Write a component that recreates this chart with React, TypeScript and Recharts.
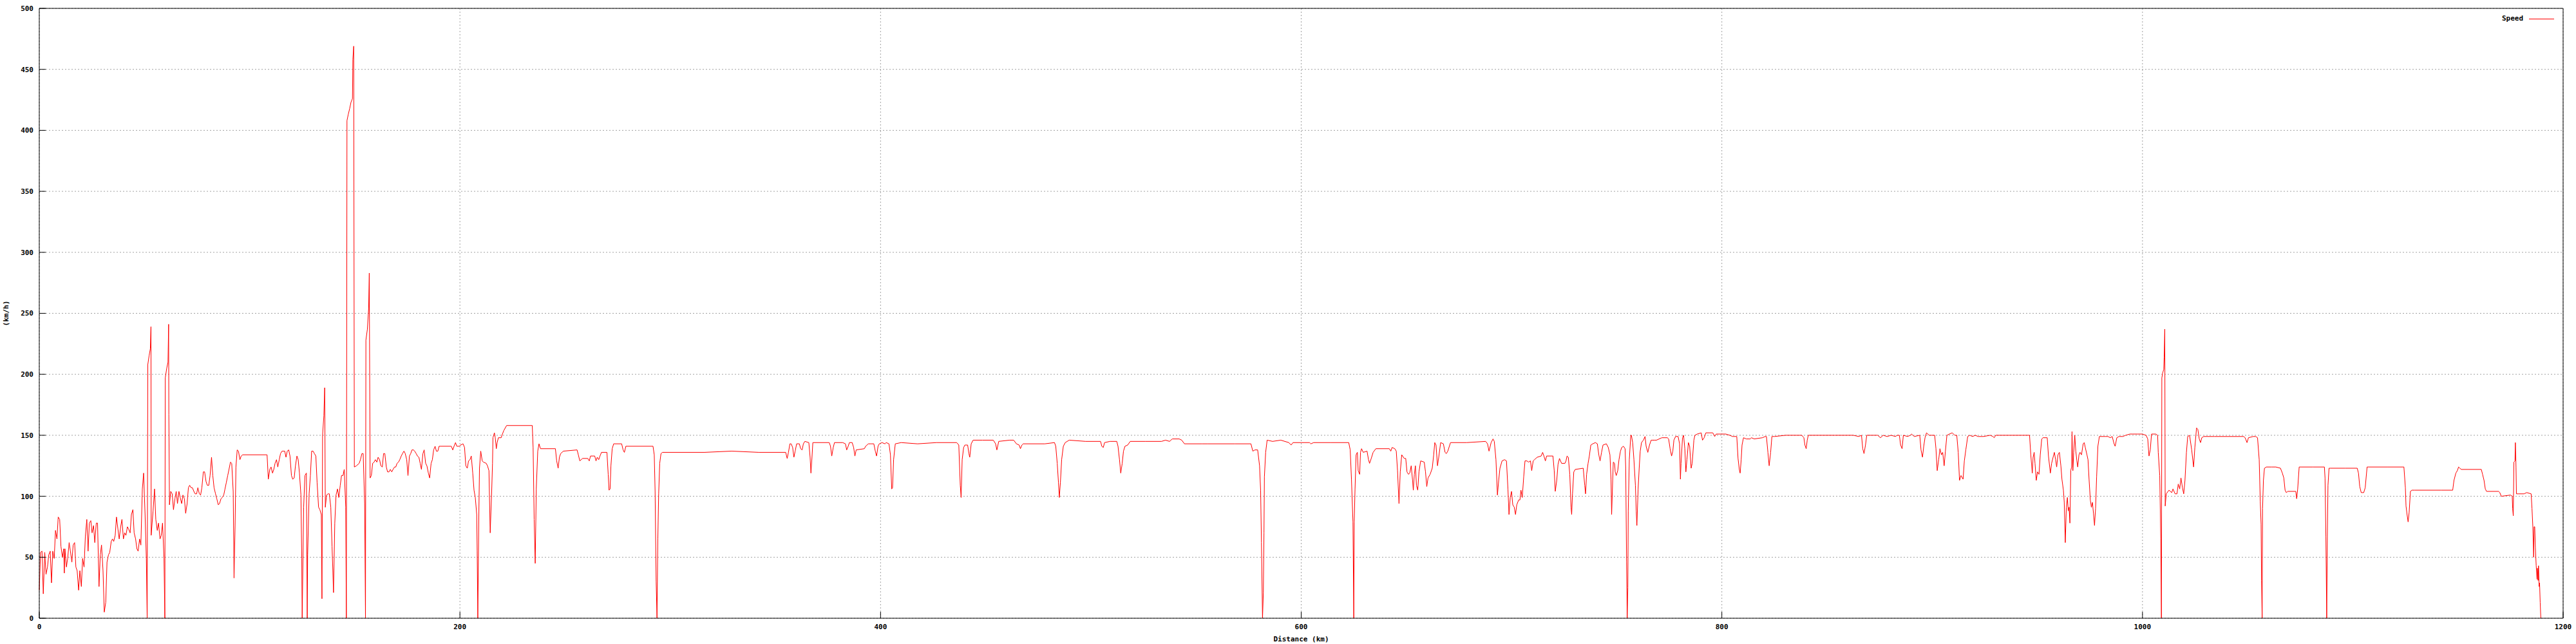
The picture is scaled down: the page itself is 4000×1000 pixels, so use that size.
import React from "react";
import { LineChart, Line, XAxis, YAxis, CartesianGrid, Legend } from "recharts";

type Pt = [number, number]; // [distance km, speed km/h]

const distanceTicks = [0, 200, 400, 600, 800, 1000, 1200];
const speedTicks = [0, 50, 100, 150, 200, 250, 300, 350, 400, 450, 500];

const speed0to200: Pt[] = [
  [0, 23], [0.6, 54], [1.3, 55], [1.9, 20], [2.6, 54], [3.2, 36], [3.9, 42], [4.5, 52], [5.2, 55], [5.8, 29],
  [6.4, 55], [7.1, 49], [7.7, 72], [8.4, 65], [9.0, 83], [9.7, 81], [10.3, 59], [11.0, 50], [11.6, 57], [11.9, 37],
  [12.2, 57], [12.9, 42], [13.5, 49], [14.2, 62], [14.8, 55], [15.5, 46], [16.1, 60], [16.8, 62], [17.4, 42], [18.0, 39],
  [18.7, 23], [19.3, 39], [20.0, 26], [20.6, 49], [21.3, 42], [21.9, 67], [22.6, 81], [23.2, 55], [23.8, 78], [24.5, 80],
  [25.1, 70], [25.8, 76], [26.4, 62], [27.1, 78], [27.7, 78], [28.4, 26], [29.0, 52], [29.6, 60], [30.3, 39], [30.9, 5],
  [31.6, 13], [32.2, 46], [32.9, 52], [33.5, 54], [34.2, 63], [34.8, 65], [35.4, 63], [36.1, 68], [36.7, 83], [37.4, 73],
  [38.0, 65], [38.7, 75], [39.3, 81], [40.0, 65], [40.6, 70], [41.2, 68], [41.9, 75], [42.5, 73], [43.2, 70], [43.8, 85],
  [44.5, 89], [45.1, 70], [45.8, 65], [46.4, 57], [47.0, 55], [47.7, 65], [48.3, 60], [49.0, 106], [49.6, 119], [50.3, 85],
  [50.9, 49], [51.3, 0], [51.6, 208], [52.2, 215], [52.8, 221], [53.1, 239], [53.2, 68], [54.1, 88], [54.8, 106], [55.4, 81],
  [56.1, 72], [56.7, 78], [57.4, 65], [58.0, 68], [58.6, 78], [59.3, 49], [59.7, 0], [59.9, 197], [60.6, 205], [61.2, 210],
  [61.5, 241], [61.6, 167], [61.9, 93], [62.5, 104], [63.2, 102], [63.8, 89], [64.5, 98], [65.1, 104], [65.7, 94], [66.4, 104],
  [67.0, 99], [67.7, 94], [68.3, 101], [69.0, 98], [69.6, 86], [70.3, 94], [70.9, 107], [71.5, 109], [72.2, 107], [72.8, 107],
  [73.5, 104], [74.1, 102], [74.8, 102], [75.4, 107], [76.1, 102], [76.7, 101], [77.3, 107], [78.0, 120], [78.6, 120], [79.3, 112],
  [79.9, 109], [80.6, 109], [81.2, 117], [81.9, 132], [82.5, 117], [83.1, 107], [83.8, 102], [84.4, 98], [85.1, 93], [85.7, 94],
  [86.4, 98], [87.0, 99], [87.7, 101], [88.3, 106], [88.9, 111], [89.6, 117], [90.2, 122], [90.9, 128], [91.5, 127], [92.2, 104],
  [92.6, 33], [93.1, 76], [93.5, 124], [94.1, 138], [94.7, 137], [95.4, 130], [96.0, 133], [96.7, 134], [108.3, 134], [108.9, 114],
  [109.6, 122], [110.2, 124], [110.9, 119], [111.5, 122], [112.1, 127], [112.8, 130], [113.4, 124], [114.1, 130], [114.7, 135], [115.4, 137],
  [116.0, 137], [116.7, 137], [117.3, 132], [117.9, 137], [118.6, 138], [119.2, 133], [119.9, 117], [120.5, 114], [121.2, 115], [121.8, 125],
  [122.5, 133], [123.1, 130], [123.7, 119], [124.4, 101], [124.8, 49], [125.0, 0], [125.7, 91], [126.3, 117], [127.0, 119], [127.4, 0],
  [127.6, 52], [128.3, 102], [128.9, 117], [129.5, 137], [130.2, 137], [130.8, 135], [131.5, 133], [132.1, 111], [132.8, 91], [133.4, 89],
  [134.1, 85], [134.4, 16], [134.7, 150], [135.3, 166], [135.7, 189], [136.0, 91], [136.6, 101], [137.3, 102], [137.9, 102], [138.6, 91],
  [139.2, 59], [139.9, 21], [140.5, 78], [141.1, 101], [141.8, 106], [142.4, 99], [143.1, 109], [143.7, 117], [144.4, 117], [145.0, 122],
  [145.7, 91], [146.0, 0], [146.3, 408], [146.9, 413], [147.6, 418], [148.2, 423], [148.9, 426], [149.1, 458], [149.5, 469], [149.8, 124],
  [150.8, 125], [152.1, 127], [152.7, 130], [153.4, 135], [154.0, 135], [154.7, 94], [155.1, 0], [155.3, 228], [156.0, 237], [156.6, 254],
  [156.9, 283], [157.3, 115], [157.9, 117], [158.5, 127], [159.2, 128], [159.8, 130], [160.5, 128], [161.1, 132], [161.8, 130], [162.4, 125],
  [163.1, 124], [163.7, 135], [164.3, 135], [165.0, 124], [165.6, 120], [166.3, 120], [166.9, 122], [167.6, 120], [168.2, 122], [168.9, 124],
  [169.5, 124], [170.1, 127], [170.8, 128], [171.4, 130], [172.1, 133], [172.7, 135], [173.4, 137], [174.0, 135], [174.7, 130], [175.3, 117],
  [176.0, 133], [176.6, 135], [177.2, 138], [177.9, 138], [178.5, 137], [179.2, 135], [179.8, 133], [180.5, 132], [181.1, 127], [181.7, 122],
  [182.4, 135], [183.0, 138], [183.7, 127], [184.3, 125], [185.0, 119], [185.6, 115], [186.3, 127], [186.9, 130], [187.5, 138], [188.2, 141],
  [188.8, 137], [189.5, 137], [190.1, 141], [190.8, 141], [195.9, 141], [196.6, 138], [197.2, 141], [197.9, 144], [198.5, 141], [199.8, 141],
];

const speed200to400: Pt[] = [
  [200.3, 142], [201.5, 143], [202.2, 140], [202.8, 125], [203.5, 123], [204.1, 129], [204.8, 130], [205.4, 133], [206.1, 119], [206.7, 105],
  [207.3, 99], [208.0, 85], [208.2, 55], [208.5, 0], [209.0, 85], [209.3, 123], [209.9, 137], [210.6, 129], [211.2, 128], [212.5, 127],
  [213.1, 125], [213.8, 121], [214.4, 70], [214.7, 85], [215.1, 104], [215.5, 127], [215.7, 148], [216.4, 152], [216.8, 148], [217.3, 139],
  [217.7, 144], [218.3, 148], [219.6, 148], [220.2, 151], [220.9, 154], [222.2, 158], [234.4, 158], [234.8, 140], [235.3, 81], [235.8, 45],
  [236.3, 106], [237.0, 137], [237.6, 143], [238.3, 139], [245.4, 139], [246.0, 129], [246.7, 123], [247.3, 132], [247.9, 135], [249.2, 137],
  [255.7, 138], [256.3, 134], [257.0, 129], [258.3, 131], [260.8, 131], [261.5, 129], [262.1, 133], [264.1, 133], [264.7, 129], [265.3, 132],
  [266.0, 130], [266.6, 133], [267.3, 136], [269.9, 136], [270.5, 118], [270.9, 105], [271.4, 106], [271.8, 125], [272.4, 139], [273.1, 143],
  [276.9, 143], [277.6, 138], [278.2, 136], [278.9, 141], [291.8, 141], [292.4, 134], [292.8, 104], [293.3, 30], [293.7, 0], [294.1, 65],
  [294.5, 102], [295.0, 127], [295.6, 135], [296.3, 136], [316.3, 136], [329.2, 137], [342.1, 136], [354.9, 136], [355.6, 131], [356.2, 136],
  [356.9, 143], [357.5, 143], [358.2, 140], [358.8, 132], [359.4, 137], [360.1, 143], [361.4, 143], [362.0, 139], [362.7, 138], [363.3, 143],
  [364.0, 145], [365.9, 144], [366.5, 132], [366.9, 119], [367.4, 132], [367.8, 144], [375.6, 144], [376.2, 141], [376.8, 133], [377.5, 140],
  [378.1, 144], [382.0, 144], [383.3, 143], [383.9, 138], [384.6, 141], [385.2, 144], [386.5, 144], [387.2, 140], [387.8, 133], [388.4, 138],
  [392.3, 139], [392.9, 141], [394.2, 143], [395.5, 143], [396.8, 143], [397.5, 137], [398.1, 133], [398.8, 141], [399.4, 143], [400.7, 144],
];

const speed400to600: Pt[] = [
  [402.1, 143], [402.7, 144], [404.0, 143], [404.7, 134], [405.3, 106], [405.7, 107], [406.2, 130], [407.0, 143], [409.8, 144], [417.6, 143],
  [426.6, 144], [436.2, 144], [437.2, 142], [437.9, 109], [438.3, 99], [438.8, 130], [439.5, 140], [440.1, 142], [441.4, 142], [442.0, 135],
  [442.4, 132], [443.1, 143], [444.0, 146], [448.5, 146], [453.6, 146], [454.7, 143], [455.3, 138], [456.2, 145], [461.4, 146], [463.3, 146],
  [464.6, 143], [465.9, 142], [466.5, 139], [467.2, 142], [467.8, 143], [478.1, 143], [482.7, 144], [483.3, 141], [484.0, 127], [484.6, 111],
  [485.0, 99], [485.5, 111], [486.1, 130], [486.9, 141], [487.8, 144], [489.7, 146], [497.5, 145], [504.6, 145], [505.2, 141], [505.9, 140],
  [506.5, 144], [509.1, 145], [512.3, 145], [512.9, 141], [513.6, 130], [514.2, 119], [514.9, 127], [515.5, 137], [516.2, 141], [517.5, 142],
  [518.7, 145], [525.8, 145], [533.6, 145], [535.5, 146], [537.4, 145], [538.7, 147], [542.0, 147], [543.2, 146], [544.5, 143], [552.9, 143],
  [555.5, 143], [568.4, 143], [576.1, 143], [577.0, 137], [578.0, 138], [579.3, 138], [580.2, 125], [580.7, 105], [581.1, 62], [581.6, 0],
  [582.0, 21], [582.3, 70], [582.5, 116], [583.1, 136], [583.8, 146], [586.4, 145], [590.3, 146], [594.1, 144], [595.2, 142], [596.1, 144],
  [600.0, 144],
];

const speed600to800: Pt[] = [
  [601.4, 144], [604.0, 144], [604.6, 143], [605.9, 144], [614.2, 144], [622.6, 144], [623.3, 138], [623.9, 114], [624.6, 79], [625.0, 0],
  [625.2, 79], [625.6, 106], [626.1, 134], [626.7, 136], [627.1, 121], [627.8, 118], [628.2, 136], [628.7, 139], [629.5, 136], [631.3, 137],
  [632.0, 130], [632.5, 127], [633.3, 131], [634.2, 136], [635.5, 139], [641.9, 139], [642.6, 137], [643.2, 140], [644.5, 139], [645.2, 137],
  [645.8, 121], [646.5, 94], [647.1, 120], [647.8, 134], [649.0, 131], [649.7, 131], [650.3, 120], [651.0, 118], [651.6, 119], [652.3, 125],
  [652.9, 114], [653.3, 105], [653.8, 118], [654.3, 125], [654.8, 109], [655.4, 105], [656.0, 120], [656.8, 129], [658.5, 128], [659.1, 120],
  [659.7, 108], [660.3, 115], [661.3, 118], [662.3, 123], [663.0, 134], [663.5, 144], [664.1, 142], [664.8, 125], [665.4, 132], [666.3, 144],
  [667.6, 143], [668.4, 136], [669.0, 135], [669.7, 137], [671.0, 144], [678.7, 144], [687.7, 145], [688.6, 143], [689.3, 137], [690.3, 144],
  [691.2, 147], [691.8, 145], [692.6, 130], [693.3, 101], [693.9, 113], [694.5, 123], [695.5, 129], [696.7, 130], [697.6, 129], [698.3, 106],
  [698.8, 85], [699.4, 99], [700.0, 104], [700.6, 93], [701.3, 91], [701.9, 85], [702.5, 93], [703.4, 97], [704.0, 97], [704.5, 105],
  [705.1, 99], [705.8, 116], [706.4, 129], [707.3, 129], [708.1, 128], [709.0, 129], [709.6, 121], [710.3, 129], [710.9, 130], [712.2, 132],
  [714.1, 133], [714.8, 136], [715.4, 133], [716.1, 129], [716.7, 133], [719.7, 133], [720.3, 121], [720.8, 104], [721.5, 113], [722.1, 126],
  [722.8, 131], [723.8, 127], [725.4, 127], [725.9, 129], [726.4, 133], [727.0, 132], [727.7, 118], [728.3, 91], [728.6, 85], [729.0, 102],
  [729.6, 120], [730.3, 122], [734.1, 123], [734.8, 109], [735.2, 102], [735.7, 118], [736.4, 127], [737.0, 133], [737.7, 142], [738.6, 143],
  [739.9, 144], [740.8, 143], [741.5, 134], [742.1, 129], [742.8, 136], [743.5, 142], [745.1, 143], [746.0, 140], [746.8, 134], [747.3, 114],
  [747.6, 85], [748.1, 113], [748.4, 128], [749.0, 127], [749.3, 120], [749.8, 117], [750.5, 121], [751.1, 130], [751.8, 137], [752.4, 140],
  [753.2, 141], [754.0, 139], [754.3, 123], [754.7, 46], [755.0, 0], [755.3, 25], [755.5, 88], [756.0, 130], [756.7, 150], [757.0, 150],
  [757.6, 144], [758.2, 130], [758.9, 109], [759.3, 88], [759.6, 76], [760.2, 106], [760.7, 123], [761.2, 137], [761.8, 144], [762.7, 146],
  [763.5, 149], [764.0, 141], [764.8, 136], [765.6, 142], [766.4, 146], [767.0, 146], [768.0, 146], [768.9, 146], [771.5, 148], [774.1, 148],
  [774.7, 147], [775.4, 139], [776.1, 133], [776.7, 137], [777.2, 146], [778.0, 149], [779.2, 149], [779.9, 143], [780.3, 114], [780.6, 127],
  [781.3, 148], [781.8, 150], [782.4, 139], [782.9, 120], [783.4, 130], [784.1, 144], [784.7, 141], [785.4, 123], [785.9, 127], [786.7, 146],
  [787.2, 150], [788.3, 151], [790.2, 152], [790.8, 146], [791.6, 148], [792.4, 152], [794.0, 152], [795.7, 152], [796.6, 149], [797.3, 151],
  [798.6, 151], [799.9, 151],
];

const speed800to1000: Pt[] = [
  [801.9, 151], [803.8, 150], [805.1, 149], [807.1, 149], [807.7, 131], [808.3, 122], [808.7, 119], [809.2, 130], [809.6, 142], [810.3, 148],
  [811.6, 147], [813.5, 147], [814.1, 148], [815.4, 147], [819.3, 148], [820.6, 149], [821.2, 149], [821.9, 136], [822.5, 125], [823.2, 136],
  [823.8, 149], [825.1, 149], [830.3, 150], [838.0, 150], [839.0, 148], [839.5, 142], [840.1, 139], [840.6, 146], [841.1, 150], [845.7, 150],
  [853.5, 150], [858.6, 150], [862.5, 150], [865.1, 149], [866.4, 150], [867.0, 139], [867.6, 135], [868.3, 142], [868.9, 150], [871.5, 150],
  [874.1, 150], [875.4, 148], [876.7, 150], [878.6, 149], [880.5, 150], [882.5, 149], [883.4, 150], [884.4, 150], [885.0, 142], [885.7, 139],
  [886.3, 150], [888.3, 149], [889.6, 150], [890.2, 151], [891.5, 149], [894.1, 150], [894.7, 138], [895.4, 132], [896.0, 141], [896.6, 148],
  [897.3, 152], [898.6, 150], [899.9, 150], [901.2, 150], [901.8, 139], [902.4, 121], [903.1, 130], [903.7, 139], [904.4, 134], [905.0, 136],
  [905.7, 125], [906.3, 137], [907.0, 150], [908.2, 151], [909.5, 152], [910.8, 150], [911.7, 150], [912.4, 136], [913.0, 113], [913.7, 117],
  [914.7, 114], [915.3, 129], [916.0, 138], [916.9, 149], [917.9, 150], [919.2, 149], [920.5, 150], [921.8, 149], [924.4, 149], [927.6, 150],
  [928.9, 149], [929.5, 148], [930.2, 150], [937.2, 150], [943.0, 150], [943.7, 150], [946.3, 150], [946.9, 134], [947.6, 119], [948.0, 132],
  [948.5, 136], [948.9, 127], [949.5, 113], [950.1, 120], [950.8, 118], [951.4, 134], [952.1, 147], [952.7, 148], [954.7, 148], [955.3, 133],
  [956.2, 119], [956.8, 127], [957.5, 132], [958.1, 136], [958.7, 130], [959.2, 124], [959.8, 134], [960.5, 136], [961.2, 125], [961.7, 114],
  [962.4, 105], [962.8, 95], [963.3, 62], [963.8, 91], [964.3, 99], [964.7, 88], [965.1, 91], [965.5, 78], [965.9, 121], [966.3, 124],
  [966.5, 153], [966.9, 121], [967.3, 136], [967.8, 150], [968.3, 137], [968.8, 129], [969.2, 124], [969.8, 134], [970.3, 136], [971.0, 134],
  [971.8, 143], [972.3, 144], [972.8, 140], [973.6, 134], [974.1, 130], [974.6, 114], [975.2, 97], [975.7, 91], [976.2, 95], [976.7, 86],
  [977.2, 76], [977.7, 90], [978.2, 116], [978.8, 141], [979.5, 149], [982.4, 149], [983.6, 149], [984.7, 148], [985.6, 149], [986.5, 143],
  [987.0, 141], [987.8, 148], [988.8, 149], [990.7, 149], [992.0, 150], [994.0, 151], [995.2, 151], [997.8, 151], [999.8, 151], [1001.7, 150],
];

const speed1000to1200: Pt[] = [
  [1002.5, 147], [1003.1, 133], [1003.7, 138], [1004.3, 151], [1006.3, 151], [1007.2, 150], [1007.5, 136], [1008.2, 117], [1008.7, 65], [1009.0, 0],
  [1009.2, 197], [1009.6, 201], [1010.1, 204], [1010.3, 214], [1010.6, 237], [1010.8, 92], [1011.3, 102], [1012.6, 105], [1013.9, 103], [1014.5, 106],
  [1015.5, 102], [1016.4, 102], [1017.0, 110], [1017.7, 106], [1018.3, 115], [1019.0, 107], [1019.6, 102], [1020.2, 113], [1020.9, 136], [1021.5, 149],
  [1022.4, 150], [1023.4, 138], [1024.3, 124], [1024.9, 140], [1025.7, 156], [1026.3, 155], [1027.0, 147], [1027.6, 144], [1028.2, 148], [1029.1, 149],
  [1034.2, 149], [1040.5, 149], [1048.1, 149], [1048.8, 148], [1049.7, 144], [1050.4, 148], [1052.6, 149], [1053.8, 149], [1054.7, 148], [1055.5, 130],
  [1056.0, 96], [1056.4, 77], [1056.6, 31], [1056.9, 0], [1057.1, 90], [1057.5, 113], [1058.0, 123], [1058.9, 124], [1061.5, 124], [1063.4, 124],
  [1065.6, 123], [1066.5, 119], [1067.2, 115], [1067.8, 105], [1068.4, 103], [1069.1, 104], [1072.9, 104], [1073.3, 98], [1073.8, 106], [1074.5, 124],
  [1075.4, 124], [1081.1, 124], [1086.5, 124], [1086.8, 115], [1087.2, 67], [1087.6, 0], [1087.9, 67], [1088.2, 109], [1088.7, 123], [1089.4, 123],
  [1096.4, 123], [1102.1, 123], [1102.7, 119], [1103.3, 108], [1104.0, 103], [1105.2, 103], [1105.9, 107], [1106.8, 124], [1107.8, 124], [1116.7, 124],
  [1124.3, 124], [1125.0, 107], [1125.3, 92], [1125.8, 85], [1126.3, 79], [1126.8, 87], [1127.4, 104], [1128.1, 105], [1129.4, 105], [1135.7, 105],
  [1142.0, 105], [1147.5, 105], [1148.1, 113], [1149.0, 119], [1149.7, 121], [1150.3, 124], [1150.9, 123], [1151.6, 122], [1154.7, 122], [1161.1, 122],
  [1161.7, 118], [1162.4, 113], [1163.0, 106], [1163.6, 104], [1169.3, 104], [1169.9, 103], [1170.6, 100], [1175.0, 101], [1175.8, 100], [1176.0, 90],
  [1176.3, 84], [1176.6, 128], [1177.1, 129], [1177.3, 144], [1177.6, 124], [1177.8, 102], [1178.8, 102], [1181.4, 102], [1182.7, 103], [1184.8, 102],
  [1185.2, 90], [1185.6, 75], [1186.0, 50], [1186.2, 75], [1186.5, 75], [1186.8, 58], [1187.2, 43], [1187.6, 32], [1187.8, 41], [1188.1, 31],
  [1188.3, 43], [1188.6, 26], [1188.8, 29], [1189.1, 13], [1189.4, 0],
];

const profile = [
  ...speed0to200,
  ...speed200to400,
  ...speed400to600,
  ...speed600to800,
  ...speed800to1000,
  ...speed1000to1200,
].map(([km, speed]) => ({ km, speed }));

const FONT = '"DejaVu Sans Mono", "Liberation Mono", monospace';
const tickFont = { fontFamily: FONT, fontSize: 11, fontWeight: 700, fill: "#000" };

const SpeedKey = () => (
  <div
    style={{
      display: "flex",
      alignItems: "center",
      fontFamily: FONT,
      fontSize: 11,
      fontWeight: 700,
      lineHeight: "14px",
      color: "#000",
    }}
  >
    <span>Speed</span>
    <svg width={39} height={3} style={{ marginLeft: 9 }}>
      <line x1={0} y1={1.5} x2={39} y2={1.5} stroke="#ff0000" strokeWidth={1} />
    </svg>
  </div>
);

const SpeedAxisLabel = (props: any) => {
  const vb = props.viewBox || { y: 13, height: 947 };
  const cy = vb.y + vb.height / 2;
  return (
    <text
      transform={`translate(13,${cy}) rotate(-90)`}
      textAnchor="middle"
      style={tickFont}
    >
      (km/h)
    </text>
  );
};

export default function App() {
  return (
    <div style={{ position: "absolute", left: 0, top: 0, width: 4000, height: 1000, background: "#fff" }}>
      <LineChart width={4000} height={1000} data={profile} margin={{ top: 12, right: 19, bottom: 0, left: 0 }}>
        <CartesianGrid stroke="#a0a0a0" strokeDasharray="2 3" />
        <XAxis
          dataKey="km"
          type="number"
          domain={[0, 1200]}
          ticks={distanceTicks}
          interval={0}
          height={40}
          tickSize={-10}
          tickMargin={19}
          axisLine={{ stroke: "#000" }}
          tickLine={{ stroke: "#000" }}
          tick={tickFont}
          label={{ value: "Distance (km)", position: "insideBottom", offset: 4, style: tickFont }}
        />
        <XAxis
          xAxisId="top"
          orientation="top"
          type="number"
          domain={[0, 1200]}
          ticks={distanceTicks}
          interval={0}
          height={1}
          tickSize={-10}
          axisLine={{ stroke: "#000" }}
          tickLine={{ stroke: "#000" }}
          tick={false}
        />
        <YAxis
          type="number"
          domain={[0, 500]}
          ticks={speedTicks}
          interval={0}
          width={61}
          tickSize={-10}
          tickMargin={19}
          axisLine={{ stroke: "#000" }}
          tickLine={{ stroke: "#000" }}
          tick={tickFont}
          label={<SpeedAxisLabel />}
        />
        <YAxis
          yAxisId="right"
          orientation="right"
          type="number"
          domain={[0, 500]}
          ticks={speedTicks}
          interval={0}
          width={1}
          tickSize={-10}
          axisLine={{ stroke: "#000" }}
          tickLine={{ stroke: "#000" }}
          tick={false}
        />
        <Legend
          layout="horizontal"
          verticalAlign="middle"
          align="center"
          content={() => <SpeedKey />}
          wrapperStyle={{ position: "absolute", left: 3885, top: 22, width: "auto", height: "auto" }}
        />
        <Line
          type="linear"
          dataKey="speed"
          stroke="#ff0000"
          strokeWidth={1}
          dot={false}
          activeDot={false}
          isAnimationActive={false}
        />
      </LineChart>
    </div>
  );
}
